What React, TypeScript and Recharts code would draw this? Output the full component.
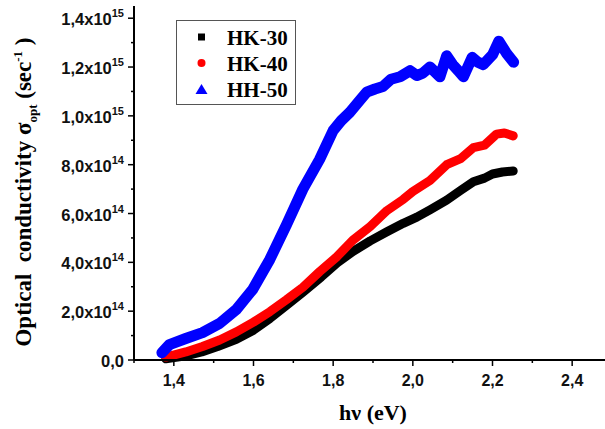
import React from "react";
import { Legend, Line, LineChart, XAxis, YAxis } from "recharts";

// values in units of 1e14 sec^-1
const hk30X = [1.38, 1.43, 1.47, 1.51, 1.557, 1.6, 1.641, 1.68, 1.724, 1.77, 1.81, 1.85, 1.893, 1.935, 1.976, 2.01, 2.043, 2.085, 2.12, 2.152, 2.18, 2.2, 2.225, 2.252];
const hk30Y = [0.05, 0.17, 0.33, 0.55, 0.85, 1.22, 1.7, 2.2, 2.78, 3.4, 3.98, 4.45, 4.88, 5.25, 5.6, 5.85, 6.15, 6.55, 6.95, 7.3, 7.45, 7.62, 7.7, 7.74];

const hk40X = [1.38, 1.43, 1.472, 1.515, 1.557, 1.6, 1.641, 1.683, 1.724, 1.766, 1.81, 1.849, 1.893, 1.935, 1.976, 2.0, 2.043, 2.085, 2.12, 2.152, 2.18, 2.21, 2.23, 2.252];
const hk40Y = [0.12, 0.33, 0.55, 0.82, 1.15, 1.55, 1.98, 2.47, 2.98, 3.62, 4.24, 4.9, 5.47, 6.12, 6.58, 6.9, 7.35, 8.0, 8.25, 8.7, 8.8, 9.25, 9.3, 9.18];

const hh50X = [1.37, 1.389, 1.43, 1.472, 1.515, 1.557, 1.598, 1.641, 1.683, 1.724, 1.766, 1.8, 1.82, 1.842, 1.865, 1.884, 1.905, 1.925, 1.945, 1.968, 1.993, 2.01, 2.025, 2.043, 2.068, 2.085, 2.1, 2.114, 2.127, 2.149, 2.163, 2.177, 2.2, 2.216, 2.236, 2.253];
const hh50Y = [0.3, 0.63, 0.88, 1.12, 1.5, 2.07, 2.89, 4.12, 5.55, 7.0, 8.22, 9.4, 9.8, 10.15, 10.6, 10.97, 11.1, 11.2, 11.5, 11.6, 11.85, 11.65, 11.75, 12.0, 11.6, 12.46, 12.1, 11.85, 11.6, 12.4, 12.2, 12.1, 12.5, 13.06, 12.54, 12.2];

const xTicks = [1.3, 1.4, 1.5, 1.6, 1.7, 1.8, 1.9, 2.0, 2.1, 2.2, 2.3, 2.4, 2.5];
const xMajor = [1.4, 1.6, 1.8, 2.0, 2.2, 2.4];
const xLabels = ["1,4", "1,6", "1,8", "2,0", "2,2", "2,4"];

const yTicks = [0, 1, 2, 3, 4, 5, 6, 7, 8, 9, 10, 11, 12, 13, 14];
const yMajor = [0, 2, 4, 6, 8, 10, 12, 14];
const yMantissas = ["0,0", "2,0x10", "4,0x10", "6,0x10", "8,0x10", "1,0x10", "1,2x10", "1,4x10"];
const yExponents = ["", "14", "14", "14", "14", "15", "15", "15"];

const seriesNames = ["HK-30", "HK-40", "HH-50"];
const seriesColors = ["#000000", "#ff0000", "#0000ff"];

const toPoints = (xs: number[], ys: number[]) => xs.map((x, i) => ({ x, y: ys[i] }));
const hk30 = toPoints(hk30X, hk30Y);
const hk40 = toPoints(hk40X, hk40Y);
const hh50 = toPoints(hh50X, hh50Y);

const sans = "'Liberation Sans', Arial, sans-serif";
const serif = "'Liberation Serif', 'Times New Roman', serif";

function XTick(props: any) {
  const { x, y, payload } = props;
  const idx = xMajor.findIndex((v) => Math.abs(v - payload.value) < 1e-6);
  const major = idx >= 0;
  return (
    <g>
      <line x1={x} x2={x} y1={y} y2={y + (major ? 6 : 3)} stroke="#000" strokeWidth={1.5} />
      {major && (
        <text x={x} y={y + 26} textAnchor="middle" fontFamily={sans} fontWeight="bold" fontSize={16} fill="#111">
          {xLabels[idx]}
        </text>
      )}
    </g>
  );
}

function YTick(props: any) {
  const { x, y, payload } = props;
  const idx = yMajor.indexOf(payload.value);
  const major = idx >= 0;
  return (
    <g>
      <line x1={x} x2={x - (major ? 6 : 3)} y1={y} y2={y} stroke="#000" strokeWidth={1.5} />
      {major && (
        <text x={x - 10} y={y + 7} textAnchor="end" fontFamily={sans} fontWeight="bold" fontSize={16.5} fill="#111">
          <tspan>{yMantissas[idx]}</tspan>
          {yExponents[idx] && (
            <tspan dy={-8} fontSize={11}>
              {yExponents[idx]}
            </tspan>
          )}
        </text>
      )}
    </g>
  );
}

const yTitle = () => (
  <text
    transform="translate(31,192) rotate(-90)"
    textAnchor="middle"
    fontFamily={serif}
    fontWeight="bold"
    fontSize={23}
    fill="#000"
    style={{ whiteSpace: "pre" }}
  >
    <tspan>{"Optical  conductivity σ"}</tspan>
    <tspan dy={6} fontSize={13}>opt</tspan>
    <tspan dy={-6}>{" (sec"}</tspan>
    <tspan dy={-9} fontSize={13}>-1</tspan>
    <tspan dy={9}>{" )"}</tspan>
  </text>
);

const xTitle = () => (
  <text x={373} y={420} textAnchor="middle" fontFamily={serif} fontWeight="bold" fontSize={22} fill="#000">
    hν (eV)
  </text>
);

function LegendBox() {
  const rows = [37, 63, 89];
  return (
    <svg width={121} height={86} style={{ display: "block" }}>
      <rect x={0.5} y={0.5} width={119} height={84} fill="#fff" stroke="#555" strokeWidth={1} />
      {seriesNames.map((name, i) => {
        const cy = rows[i] - 20;
        const cx = 25.5;
        let marker;
        if (i === 0) marker = <rect x={cx - 3.5} y={cy - 3.5} width={7} height={7} fill={seriesColors[i]} />;
        else if (i === 1) marker = <circle cx={cx} cy={cy} r={4} fill={seriesColors[i]} />;
        else marker = <polygon points={`${cx - 6},${cy + 5} ${cx + 6},${cy + 5} ${cx},${cy - 5}`} fill={seriesColors[i]} />;
        return (
          <g key={name}>
            {marker}
            <text x={51} y={cy + 7.5} fontFamily={serif} fontWeight="bold" fontSize={21} fill="#000">
              {name}
            </text>
          </g>
        );
      })}
    </svg>
  );
}

export default function App() {
  return (
    <div style={{ position: "fixed", left: 0, top: 0, width: 605, height: 429, overflow: "hidden", background: "#fff" }}>
      <LineChart width={620} height={429} margin={{ top: 6, right: 8, left: 0, bottom: 0 }}>
        <XAxis
          dataKey="x"
          type="number"
          domain={[1.3, 2.5]}
          ticks={xTicks}
          interval={0}
          height={69}
          tickSize={0}
          tickMargin={0}
          tickLine={false}
          axisLine={{ stroke: "#000", strokeWidth: 2 }}
          tick={<XTick />}
          label={{ content: xTitle }}
        />
        <YAxis
          type="number"
          domain={[0, 14.5]}
          ticks={yTicks}
          interval={0}
          width={134}
          tickSize={0}
          tickMargin={0}
          tickLine={false}
          axisLine={{ stroke: "#000", strokeWidth: 2 }}
          tick={<YTick />}
          label={{ content: yTitle }}
        />
        <Legend
          layout="vertical"
          align="center"
          verticalAlign="middle"
          content={() => <LegendBox />}
          wrapperStyle={{ position: "absolute", left: 176, top: 20, width: 121, height: 86 }}
        />
        <Line data={hk30} dataKey="y" name={seriesNames[0]} type="linear" stroke={seriesColors[0]} strokeWidth={9} strokeLinejoin="round" strokeLinecap="round" dot={false} isAnimationActive={false} />
        <Line data={hk40} dataKey="y" name={seriesNames[1]} type="linear" stroke={seriesColors[1]} strokeWidth={9} strokeLinejoin="round" strokeLinecap="round" dot={false} isAnimationActive={false} />
        <Line data={hh50} dataKey="y" name={seriesNames[2]} type="linear" stroke={seriesColors[2]} strokeWidth={11} strokeLinejoin="round" strokeLinecap="round" dot={false} isAnimationActive={false} />
      </LineChart>
    </div>
  );
}
